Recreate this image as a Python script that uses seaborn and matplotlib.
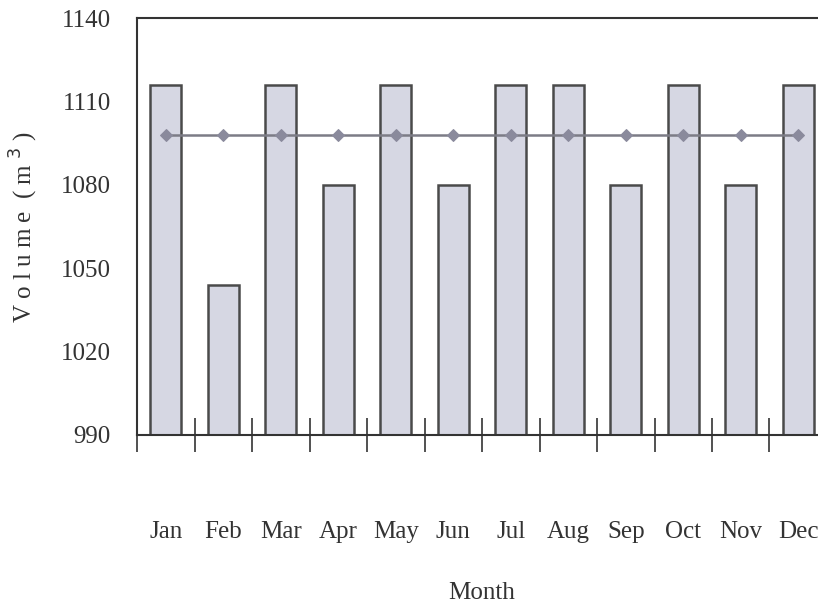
import numpy as np
import pandas as pd
import matplotlib
matplotlib.use("Agg")
import matplotlib.pyplot as plt
import matplotlib.ticker as mticker
import seaborn as sns

# ── Dados ────────────────────────────────────────────────────────────────────
meses = ["Jan", "Feb", "Mar", "Apr", "May", "Jun",
         "Jul", "Aug", "Sep", "Oct", "Nov", "Dec"]
volume = [1116, 1044, 1116, 1080, 1116, 1080,
          1116, 1116, 1080, 1116, 1080, 1116]
media = [1098, 1098, 1098, 1098, 1098, 1098,
         1098, 1098, 1098, 1098, 1098, 1098]
y_ticks = [990, 1020, 1050, 1080, 1110, 1140]

df = pd.DataFrame({"Month": meses, "Volume": volume, "Media": media})

sns.set_theme(style="white")
plt.rcParams["font.family"] = ["Liberation Serif", "DejaVu Serif"]

fig = plt.figure(figsize=(8.18, 6.07), dpi=100)
ax = fig.add_axes([0.1675, 0.2834, 0.8435, 0.6866])

sns.barplot(data=df, x="Month", y="Volume", color="#d6d7e3",
            saturation=1, width=0.54, edgecolor="#4a4a4a", linewidth=1.8, ax=ax)
sns.lineplot(x=np.arange(len(meses)), y=df["Media"], color="#7c7c86",
             linewidth=1.8, marker="D", markersize=6,
             markerfacecolor="#8a8a9c", markeredgecolor="#8a8a9c", ax=ax)

ax.set_ylim(990, 1140)
ax.set_xlim(-0.5, 11.5)
ax.set_yticks(y_ticks)
ax.set_yticklabels([str(v) for v in y_ticks], fontsize=18, color="#333333")
ax.set_xticks(range(len(meses)))
ax.set_xticklabels(meses, fontsize=18, color="#333333")

# ticks nos limites entre categorias
ax.xaxis.set_minor_locator(mticker.FixedLocator(np.arange(-0.5, 12.0, 1.0)))
ax.tick_params(axis="x", which="major", length=0, pad=62)
ax.tick_params(axis="x", which="minor", direction="inout", length=25,
               width=1.2, color="#333333", bottom=True)
ax.tick_params(axis="y", length=0, pad=19)

for lado in ["top", "left", "bottom", "right"]:
    ax.spines[lado].set_color("#333333")
    ax.spines[lado].set_linewidth(1.5)

ax.set_xlabel("Month", fontsize=18, color="#333333", labelpad=28)
ax.set_ylabel("V o l u m e  ( m $^{3}$ )", fontsize=18, color="#333333", labelpad=15)

fig.savefig("out.png", dpi=100)
